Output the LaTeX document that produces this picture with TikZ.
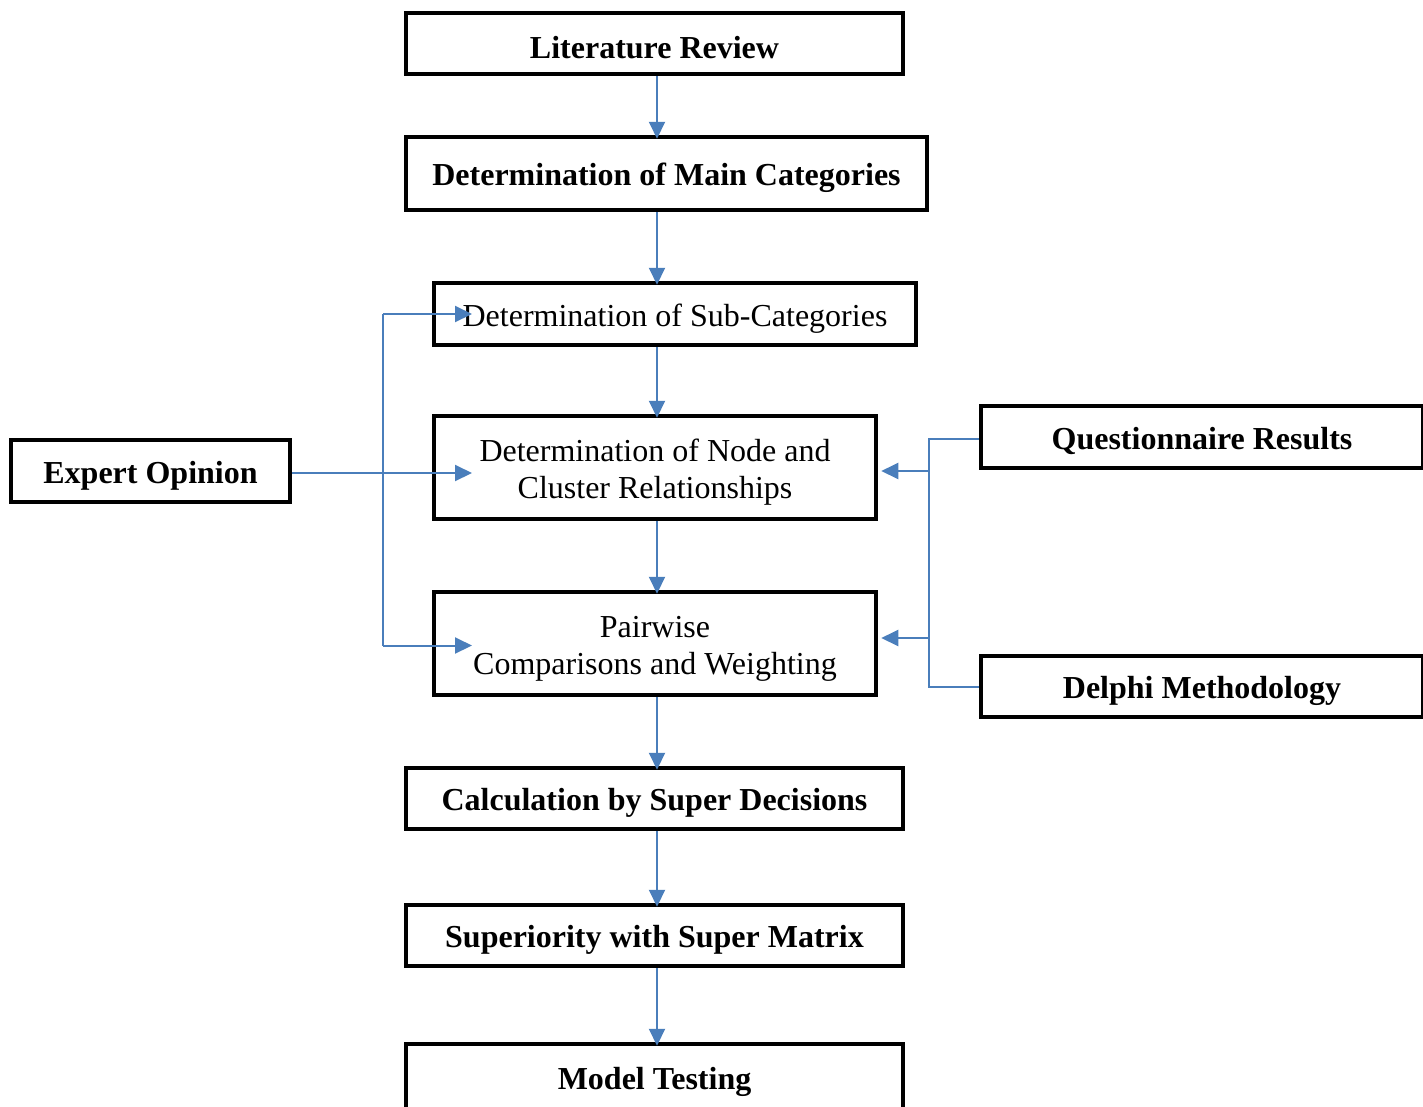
\documentclass[tikz,border=0pt]{standalone}
\usepackage{fontspec}
\setmainfont{Liberation Serif}
\usetikzlibrary{arrows.meta}
\definecolor{linkblue}{HTML}{4A7EBB}
\begin{document}
\begin{tikzpicture}[x=1pt,y=-1pt,
  box/.style={draw=black,line width=4.5pt,rectangle,inner sep=0pt,align=center,
    font=\fontsize{32}{37}\selectfont},
  boldbox/.style={box,font=\fontsize{32}{37}\selectfont\bfseries},
  link/.style={draw=linkblue,line width=2pt},
  arr/.style={link,-{Triangle[length=17pt,width=16pt]}}]
\useasboundingbox (0,0) rectangle (1423,1106);
\clip (0,0) rectangle (1423,1106);
% box(name, x1, y1, x2, y2) by centre line of the border;
% the strut on the first line sets the text slightly below the centre
\newcommand{\flowbox}[7][box]{%
  \node[#1,minimum width={(#5)-(#3)},minimum height={(#6)-(#4)}] (#2)
    at ({((#3)+(#5))/2},{((#4)+(#6))/2}) {\rule{0pt}{31pt}#7};}
% main column
\flowbox[boldbox]{lr}{406}{13}{903}{74}{Literature Review}
\flowbox[boldbox]{mc}{406}{137}{927}{210}{Determination of Main Categories}
\flowbox{sc}{434}{283}{916}{345}{Determination of Sub-Categories}
\flowbox{nc}{434}{416}{876}{519}{Determination of Node and\\Cluster Relationships}
\flowbox{pw}{434}{592}{876}{695}{Pairwise\\Comparisons and Weighting}
\flowbox[boldbox]{cs}{406}{768}{903}{829}{Calculation by Super Decisions}
\flowbox[boldbox]{sm}{406}{905}{903}{966}{Superiority with Super Matrix}
\flowbox[boldbox]{mt}{406}{1044}{903}{1112}{Model Testing}
% side inputs
\flowbox[boldbox]{eo}{11}{440}{290}{502}{Expert Opinion}
\flowbox[boldbox]{qr}{981}{406}{1423}{468}{Questionnaire Results}
\flowbox[boldbox]{dm}{981}{656}{1423}{717}{Delphi Methodology}
% guide coordinates
\coordinate (spine) at (657,0);
\coordinate (lbus) at (383,0);
\coordinate (ltip) at (472,0);
\coordinate (rbus) at (929,0);
\coordinate (qin) at (929,471);
\coordinate (din) at (929,638);
% main sequence
\draw[arr] (spine |- lr.south) -- ([yshift=-4pt]spine |- mc.north);
\draw[arr] (spine |- mc.south) -- ([yshift=-4pt]spine |- sc.north);
\draw[arr] (spine |- sc.south) -- ([yshift=-4pt]spine |- nc.north);
\draw[arr] (spine |- nc.south) -- ([yshift=-4pt]spine |- pw.north);
\draw[arr] (spine |- pw.south) -- ([yshift=-4pt]spine |- cs.north);
\draw[arr] (spine |- cs.south) -- ([yshift=-4pt]spine |- sm.north);
\draw[arr] (spine |- sm.south) -- ([yshift=-4pt]spine |- mt.north);
% expert opinion feeds
\draw[arr] ([yshift=-2pt]eo.east) -- ([yshift=-2pt]ltip |- eo.east);
\draw[link] (lbus |- sc.west) -- ([yshift=-2pt]lbus |- pw.west);
\draw[arr] (lbus |- sc.west) -- (ltip |- sc.west);
\draw[arr] ([yshift=-2pt]lbus |- pw.west) -- ([yshift=-2pt]ltip |- pw.west);
% questionnaire and delphi feeds
\draw[link] ([yshift=-2pt]qr.west) -- ([yshift=-2pt]rbus |- qr.west)
  -- (rbus |- dm.west) -- (dm.west);
\draw[arr] (qin) -- ([xshift=3pt]nc.east |- qin);
\draw[arr] (din) -- ([xshift=3pt]pw.east |- din);
\end{tikzpicture}
\end{document}
